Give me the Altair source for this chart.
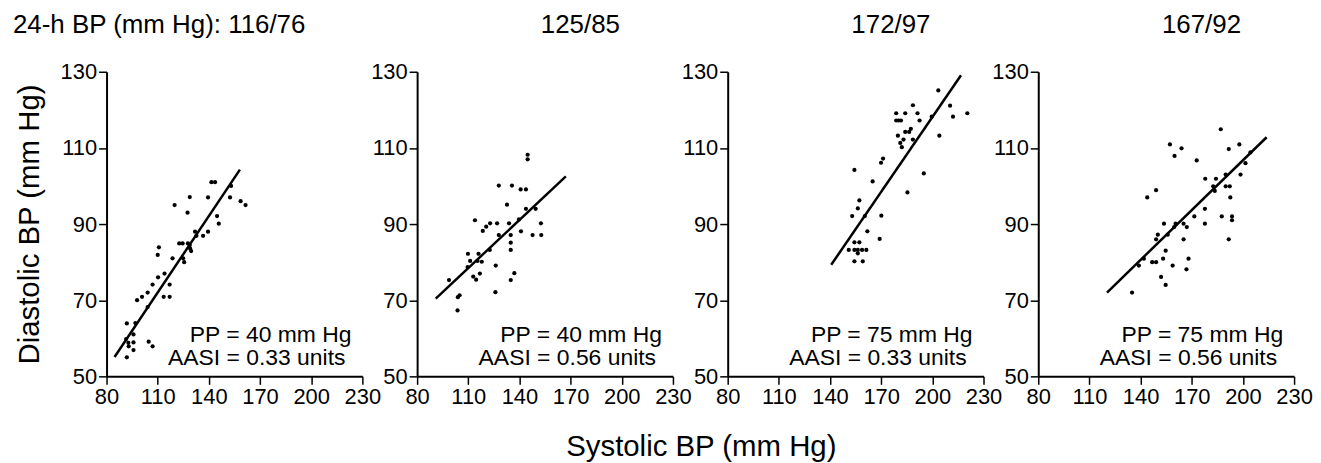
import altair as alt
import pandas as pd

FONT = "Liberation Sans"

titles = ["24-h BP (mm Hg): 116/76", "125/85", "172/97", "167/92"]
pp_labels = ["PP = 40 mm Hg", "PP = 40 mm Hg", "PP = 75 mm Hg", "PP = 75 mm Hg"]
aasi_labels = ["AASI = 0.33 units", "AASI = 0.56 units", "AASI = 0.33 units", "AASI = 0.56 units"]
x_title = "Systolic BP (mm Hg)"
y_title = "Diastolic BP (mm Hg)"

x_ticks = [80, 110, 140, 170, 200, 230]
y_ticks = [50, 70, 90, 110, 130]

# Panel 1 (116/76)
p1_sbp = [97.9, 100.8, 104.1, 107.0, 110.2, 114.0, 117.0, 113.5, 117.0, 110.0, 110.7, 118.7,
          119.9, 122.6, 124.6, 124.9, 125.5, 127.5, 128.8, 127.7, 128.8, 129.6, 129.0, 131.9,
          132.7, 136.6, 139.5, 139.5, 141.5, 143.6, 144.8, 145.8, 152.4, 153.0, 158.6, 161.5,
          104.1, 91.9, 96.9, 95.8, 91.5, 92.8, 95.8, 93.0, 95.8, 91.9, 104.7, 107.0]
p1_dbp = [70.0, 70.9, 72.0, 74.1, 76.0, 77.0, 74.1, 70.9, 70.9, 81.9, 83.9, 81.0,
          95.0, 84.9, 84.9, 81.0, 80.0, 93.0, 97.1, 84.9, 84.5, 82.9, 83.6, 88.0,
          86.9, 86.9, 88.0, 97.0, 101.0, 101.0, 92.1, 90.1, 97.0, 100.0, 96.0, 95.0,
          68.2, 63.9, 64.0, 61.0, 59.8, 58.8, 58.9, 57.9, 56.9, 55.0, 59.1, 57.9]
p1_line_sbp = [84.7, 158.2]
p1_line_dbp = [55.1, 104.3]

# Panel 2 (125/85)
p2_sbp = [98.7, 103.9, 104.9, 103.7, 109.8, 116.0, 111.1, 115.4, 117.9, 109.6, 113.9, 112.9,
          114.6, 116.8, 118.5, 120.5, 122.8, 122.6, 125.9, 126.1, 127.9, 126.9, 127.9, 132.7,
          133.9, 134.9, 134.9, 134.9, 134.9, 137.0, 135.6, 139.7, 140.9, 140.7, 143.8, 143.8,
          144.8, 144.8, 147.7, 149.5, 152.6, 152.8]
p2_dbp = [75.3, 70.8, 71.3, 67.3, 82.2, 82.2, 80.3, 80.3, 80.1, 78.7, 91.0, 76.2,
          75.4, 77.0, 88.2, 89.3, 90.2, 83.2, 72.1, 79.1, 100.1, 90.2, 87.1, 95.1,
          90.2, 87.1, 85.1, 83.2, 75.3, 77.1, 100.1, 91.2, 88.1, 99.1, 99.1, 94.0,
          108.2, 107.0, 87.1, 94.0, 90.2, 87.1]
p2_line_sbp = [90.9, 167.2]
p2_line_dbp = [70.4, 102.5]

# Panel 3 (172/97)
p3_sbp = [151.0, 154.3, 157.2, 154.3, 156.3, 158.8, 161.3, 156.3, 154.3, 159.2, 153.0, 156.3,
          157.2, 160.4, 161.9, 154.3, 165.0, 169.1, 170.1, 169.9, 171.1, 178.8, 178.8, 180.2,
          181.6, 179.8, 181.2, 182.1, 183.1, 184.1, 184.1, 185.4, 186.4, 187.4, 188.6, 188.6,
          191.3, 192.5, 195.0, 199.6, 203.5, 204.1, 210.4, 212.1, 220.5]
p3_dbp = [83.2, 85.2, 85.2, 83.2, 83.2, 83.2, 83.2, 82.3, 80.2, 80.2, 92.1, 94.1,
          96.2, 92.1, 88.1, 104.2, 101.2, 86.1, 92.2, 106.1, 107.2, 119.1, 117.2, 117.2,
          117.2, 113.2, 111.3, 110.2, 112.2, 119.1, 114.2, 98.3, 114.2, 115.0, 121.2, 112.2,
          119.1, 117.2, 103.3, 118.2, 125.1, 113.2, 121.1, 118.2, 119.1]
p3_line_sbp = [140.7, 216.8]
p3_line_dbp = [79.3, 129.1]

# Panel 4 (167/92)
p4_sbp = [135.0, 139.0, 141.9, 143.9, 149.1, 146.8, 149.1, 149.1, 150.1, 152.0, 154.7, 153.2,
          154.7, 153.7, 155.9, 157.2, 158.8, 159.9, 159.7, 160.5, 164.0, 165.2, 165.2, 167.1,
          166.9, 168.1, 171.5, 172.9, 177.7, 177.7, 177.9, 182.6, 183.5, 184.2, 187.0, 187.6,
          189.9, 189.9, 192.3, 191.7, 191.7, 192.6, 193.6, 193.6, 197.9, 198.6, 201.5, 204.4]
p4_dbp = [72.0, 79.1, 80.9, 97.0, 98.9, 80.0, 80.0, 86.0, 87.2, 76.1, 74.0, 80.9,
          83.0, 90.1, 87.2, 110.9, 79.1, 107.9, 89.2, 90.1, 109.9, 90.1, 86.0, 89.2,
          78.1, 80.9, 92.0, 106.7, 94.0, 90.1, 101.9, 99.9, 98.7, 101.9, 114.9, 92.0,
          103.0, 99.9, 99.9, 109.7, 86.0, 97.0, 92.0, 91.0, 110.9, 103.0, 106.0, 108.8]
p4_line_sbp = [120.3, 213.9]
p4_line_dbp = [72.0, 112.8]

W, H = 257, 306
TICK_FS = 22
NOTE_FS = 23
TITLE_FS = 26
AXIS_TITLE_FS = 29.5


def text_layer(txt, x, y, align, size):
    return alt.Chart(pd.DataFrame({"t": [txt]})).mark_text(
        font=FONT, fontSize=size, color="black", align=align, baseline="alphabetic"
    ).encode(x=alt.value(x), y=alt.value(y), text="t:N")


def panel(i, sbp, dbp, lsbp, ldbp):
    pts = pd.DataFrame({"sbp": sbp, "dbp": dbp})
    ln = pd.DataFrame({"sbp": lsbp, "dbp": ldbp})

    if i == 1:
        xaxis = alt.Axis(values=x_ticks, title=x_title, titleX=285, titleY=80,
                         titleBaseline="alphabetic", titleFontSize=AXIS_TITLE_FS)
    else:
        xaxis = alt.Axis(values=x_ticks, title=None)
    if i == 0:
        yaxis = alt.Axis(values=y_ticks, title=y_title, titleX=-77, titleY=H / 2,
                         titleBaseline="middle", titleFontSize=AXIS_TITLE_FS)
    else:
        yaxis = alt.Axis(values=y_ticks, title=None)

    xs = alt.Scale(domain=[80, 230], nice=False, zero=False)
    ys = alt.Scale(domain=[50, 130], nice=False, zero=False)

    points = alt.Chart(pts).mark_circle(size=18, color="black", opacity=1).encode(
        x=alt.X("sbp:Q", scale=xs, axis=xaxis),
        y=alt.Y("dbp:Q", scale=ys, axis=yaxis),
    )
    line = alt.Chart(ln).mark_line(color="black", strokeWidth=2.5).encode(
        x=alt.X("sbp:Q", scale=xs),
        y=alt.Y("dbp:Q", scale=ys),
    )
    if i == 0:
        ttl = text_layer(titles[i], -94, -39, "left", TITLE_FS)
    else:
        ttl = text_layer(titles[i], 164, -39, "center", TITLE_FS)
    n1 = text_layer(pp_labels[i], 246, 271, "right", NOTE_FS)
    n2 = text_layer(aasi_labels[i], 240, 295, "right", NOTE_FS)
    return alt.layer(points, line, n1, n2, ttl).properties(width=W, height=H)


panels = [
    panel(0, p1_sbp, p1_dbp, p1_line_sbp, p1_line_dbp),
    panel(1, p2_sbp, p2_dbp, p2_line_sbp, p2_line_dbp),
    panel(2, p3_sbp, p3_dbp, p3_line_sbp, p3_line_dbp),
    panel(3, p4_sbp, p4_dbp, p4_line_sbp, p4_line_dbp),
]

chart = alt.hconcat(*panels, spacing=55, bounds="flush").properties(
    padding={"left": 5, "top": 3, "right": 0, "bottom": 0}
).configure_view(stroke=None).configure_axis(
    grid=False,
    domainColor="black",
    domainWidth=2,
    tickColor="black",
    tickWidth=1.5,
    tickSize=8,
    labelFont=FONT,
    labelFontSize=TICK_FS,
    labelColor="black",
    labelPadding=2,
    labelOverlap=False,
    labelFlush=False,
    titleFont=FONT,
    titleColor="black",
    titleFontWeight="normal",
)

chart.save("out.html", embed_options={"renderer": "svg", "actions": False})
